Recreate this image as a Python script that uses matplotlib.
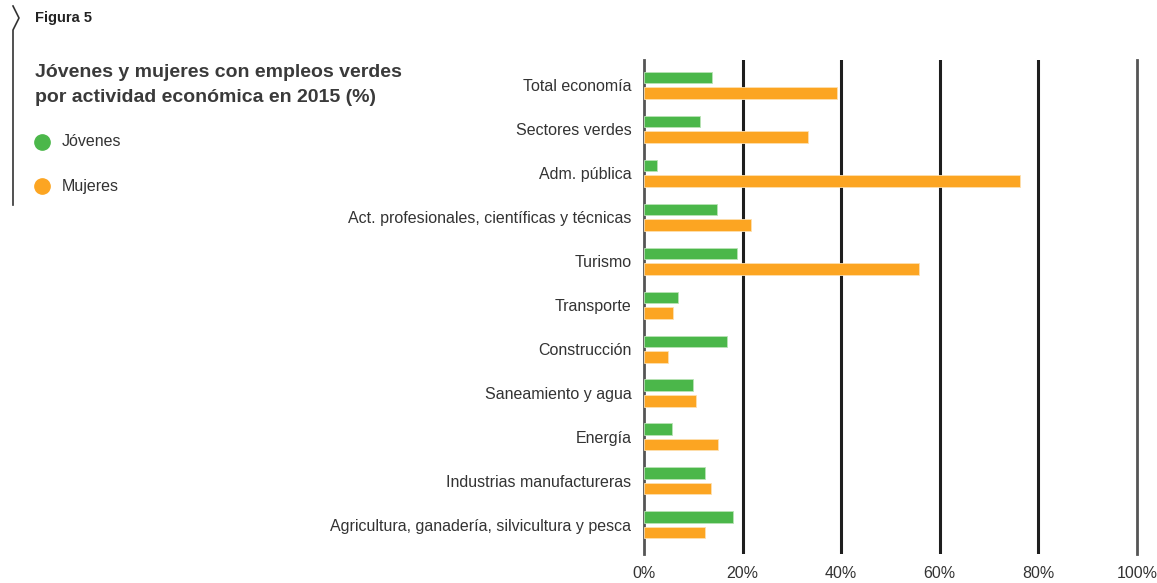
import numpy as np
import matplotlib.pyplot as plt
from matplotlib.lines import Line2D

plt.rcParams['font.family'] = ['Liberation Sans', 'DejaVu Sans']

categorias = ['Total economía', 'Sectores verdes', 'Adm. pública',
              'Act. profesionales, científicas y técnicas', 'Turismo',
              'Transporte', 'Construcción', 'Saneamiento y agua', 'Energía',
              'Industrias manufactureras',
              'Agricultura, ganadería, silvicultura y pesca']
jovenes = [13.8, 11.3, 2.7, 14.8, 18.9, 6.9, 16.8, 10.0, 5.7, 12.4, 18.0]
mujeres = [39.2, 33.3, 76.3, 21.8, 55.8, 5.9, 4.8, 10.6, 15.0, 13.6, 12.4]
ticks = [0, 20, 40, 60, 80, 100]
tick_labels = ['0%', '20%', '40%', '60%', '80%', '100%']

verde = '#4bb74a'
naranja = '#fca522'
texto = '#333333'

W, H = 1157, 583
fig = plt.figure(figsize=(W / 100, H / 100), dpi=100)
ax = fig.add_axes([644 / W, 1 - 554 / H, (1137 - 644) / W, (554 - 60) / H])

y = np.arange(len(categorias))
bh = 0.27
off = 0.172
ax.barh(y - off, jovenes, height=bh, color=verde, edgecolor='#b9e3b5', linewidth=0.6, zorder=3)
ax.barh(y + off, mujeres, height=bh, color=naranja, edgecolor='#fde0b0', linewidth=0.6, zorder=3)

ax.set_xlim(0, 100)
ax.set_ylim(10.66, -0.57)
ax.set_xticks(ticks)
ax.set_xticklabels(tick_labels, fontsize=11.5, color=texto)
ax.set_yticks(y)
ax.set_yticklabels(categorias, fontsize=11.5, color=texto)
ax.tick_params(length=0)
ax.tick_params(axis='y', pad=9)
ax.tick_params(axis='x', pad=9)
for s in ax.spines.values():
    s.set_visible(False)

ax.grid(axis='x', color='#1e1e1e', linewidth=2.2, zorder=1)
ax.set_axisbelow(True)
gl = ax.get_xgridlines()
for i in (0, len(gl) - 1):
    gl[i].set_color('#555555')
    gl[i].set_linewidth(2.0)
    gl[i].set_clip_on(False)

# cabecera
fig.text(35 / W, 1 - 18 / H, 'Figura 5', fontsize=10.5, fontweight='bold', color='#222222', va='center')
fig.text(35 / W, 1 - 85 / H, 'Jóvenes y mujeres con empleos verdes\npor actividad económica en 2015 (%)',
         fontsize=14, fontweight='bold', color='#3a3a3a', va='center', linespacing=1.55)

# leyenda
for yy, col, lab in [(142, verde, 'Jóvenes'), (186, naranja, 'Mujeres')]:
    fig.add_artist(Line2D([42 / W], [1 - yy / H], marker='o', markersize=11,
                          color=col, linestyle='none'))
    fig.text(62 / W, 1 - yy / H, lab, fontsize=11.5, color=texto, va='center')

# adorno lateral
fig.add_artist(Line2D([13 / W, 19 / W, 13 / W, 13 / W],
                      [1 - 6 / H, 1 - 18 / H, 1 - 30 / H, 1 - 205 / H],
                      color='#333333', linewidth=1.2))

fig.savefig('out.png', dpi=100)
